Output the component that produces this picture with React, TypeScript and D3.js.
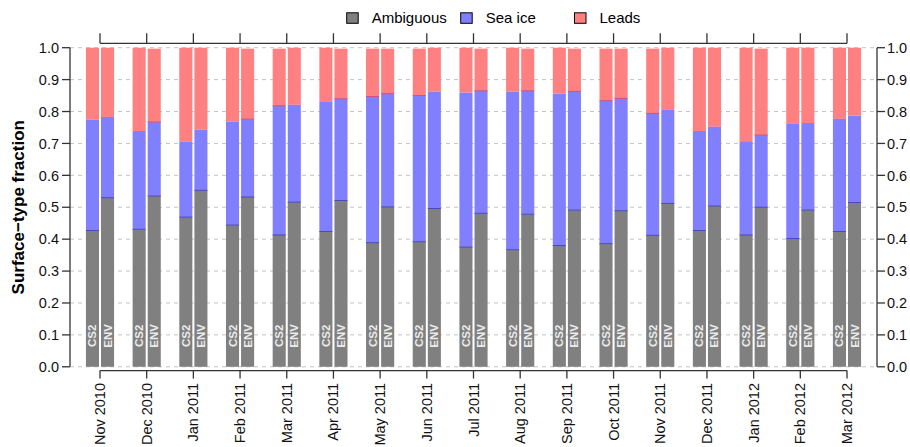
import React from "react";
import * as d3 from "d3";

// Monthly categories
const months = [
  "Nov 2010", "Dec 2010", "Jan 2011", "Feb 2011", "Mar 2011", "Apr 2011",
  "May 2011", "Jun 2011", "Jul 2011", "Aug 2011", "Sep 2011", "Oct 2011",
  "Nov 2011", "Dec 2011", "Jan 2012", "Feb 2012", "Mar 2012",
];

// Surface-type fractions, CryoSat-2
const cs2Ambiguous = [0.427, 0.431, 0.469, 0.444, 0.413, 0.424, 0.389, 0.392, 0.375, 0.367, 0.380, 0.386, 0.412, 0.427, 0.413, 0.402, 0.424];
const cs2SeaIce = [0.347, 0.308, 0.236, 0.325, 0.405, 0.406, 0.458, 0.458, 0.484, 0.495, 0.476, 0.448, 0.382, 0.312, 0.294, 0.361, 0.353];
const cs2Leads = [0.226, 0.261, 0.295, 0.231, 0.179, 0.170, 0.150, 0.147, 0.141, 0.138, 0.144, 0.163, 0.203, 0.261, 0.293, 0.237, 0.223];

// Surface-type fractions, Envisat
const envAmbiguous = [0.530, 0.535, 0.553, 0.532, 0.516, 0.521, 0.501, 0.496, 0.481, 0.478, 0.491, 0.489, 0.512, 0.504, 0.500, 0.491, 0.515];
const envSeaIce = [0.253, 0.232, 0.190, 0.244, 0.305, 0.319, 0.355, 0.366, 0.384, 0.387, 0.372, 0.352, 0.293, 0.248, 0.226, 0.273, 0.272];
const envLeads = [0.217, 0.230, 0.257, 0.221, 0.179, 0.157, 0.141, 0.138, 0.132, 0.132, 0.134, 0.156, 0.195, 0.248, 0.271, 0.236, 0.213];

const yTicks = [0, 0.1, 0.2, 0.3, 0.4, 0.5, 0.6, 0.7, 0.8, 0.9, 1.0];
const legendItems = ["Ambiguous", "Sea ice", "Leads"];
const sensors = ["CS2", "ENV"];

const COLORS = { amb: "#808080", ice: "#8080ff", leads: "#ff8080" };
const FONT = "'Liberation Sans', Arial, Helvetica, sans-serif";

export default function App() {
  const W = 910;
  const H = 447;
  const axisLeft = 70;
  const axisRight = 877;

  const x = d3.scalePoint<string>().domain(months).range([100, 847]);
  const y = d3.scaleLinear().domain([0, 1]).range([366.8, 47.7]);
  const step = x.step();
  const barW = step * 0.28;
  const halfGap = step * 0.0215;

  const series = [
    { name: sensors[0], amb: cs2Ambiguous, ice: cs2SeaIce, leads: cs2Leads, offset: -halfGap - barW },
    { name: sensors[1], amb: envAmbiguous, ice: envSeaIce, leads: envLeads, offset: halfGap },
  ];

  const stackBars = series.flatMap((s) =>
    months.map((m, i) => {
      const x0 = (x(m) as number) + s.offset;
      const a = s.amb[i];
      const b = a + s.ice[i];
      const c = b + s.leads[i];
      return { key: `${s.name}-${m}`, name: s.name, x0, a, b, c };
    })
  );

  const legendSwatchX = [346.7, 460.7, 574.5];
  const legendColors = [COLORS.amb, COLORS.ice, COLORS.leads];

  return (
    <svg
      width={W}
      height={H}
      style={{ position: "absolute", left: 0, top: 0, background: "#fff" }}
      fontFamily={FONT}
    >
      {/* horizontal dashed grid */}
      <g>
        {yTicks.map((t) => (
          <line
            key={t}
            x1={axisLeft}
            x2={axisRight}
            y1={y(t)}
            y2={y(t)}
            stroke="#c4c4c4"
            strokeWidth={1}
            strokeDasharray="4,4"
          />
        ))}
      </g>

      {/* stacked bars */}
      <g>
        {stackBars.map((d) => (
          <g key={d.key}>
            <rect x={d.x0} width={barW} y={y(d.c)} height={y(d.b) - y(d.c)} fill={COLORS.leads} />
            <rect x={d.x0} width={barW} y={y(d.b)} height={y(d.a) - y(d.b)} fill={COLORS.ice} />
            <rect x={d.x0} width={barW} y={y(d.a)} height={y(0) - y(d.a)} fill={COLORS.amb} />
            {d.c < 0.999 && (
              <line x1={d.x0} x2={d.x0 + barW} y1={y(d.b)} y2={y(d.b)} stroke="#d0507e" strokeWidth={1} />
            )}
            <line x1={d.x0} x2={d.x0 + barW} y1={y(d.a)} y2={y(d.a)} stroke="#4848c0" strokeWidth={1} />
            <text
              transform={`translate(${d.x0 + barW / 2 + 4},${y(0.1) + 1}) rotate(-90)`}
              textAnchor="middle"
              fontSize={11.5}
              fontWeight="bold"
              fill="#ececec"
            >
              {d.name}
            </text>
          </g>
        ))}
      </g>

      {/* left axis */}
      <g stroke="#333" strokeWidth={1.3}>
        <line x1={axisLeft} x2={axisLeft} y1={y(0)} y2={y(1)} />
        {yTicks.map((t) => (
          <line key={t} x1={axisLeft - 8} x2={axisLeft} y1={y(t)} y2={y(t)} />
        ))}
      </g>
      <g fontSize={14.5} fill="#111">
        {yTicks.map((t) => (
          <text key={t} x={axisLeft - 11} y={y(t)} dy="0.36em" textAnchor="end">
            {d3.format(".1f")(t)}
          </text>
        ))}
      </g>

      {/* right axis */}
      <g stroke="#333" strokeWidth={1.3}>
        <line x1={axisRight} x2={axisRight} y1={y(0)} y2={y(1)} />
        {yTicks.map((t) => (
          <line key={t} x1={axisRight} x2={axisRight + 8} y1={y(t)} y2={y(t)} />
        ))}
      </g>
      <g fontSize={14.5} fill="#111">
        {yTicks.map((t) => (
          <text key={t} x={axisRight + 10} y={y(t)} dy="0.36em" textAnchor="start">
            {d3.format(".1f")(t)}
          </text>
        ))}
      </g>

      {/* bottom axis */}
      <g stroke="#333" strokeWidth={1.3}>
        <line x1={x(months[0])} x2={x(months[months.length - 1])} y1={370.6} y2={370.6} />
        {months.map((m) => (
          <line key={m} x1={x(m)} x2={x(m)} y1={370.6} y2={378.6} />
        ))}
      </g>
      <g fontSize={14.5} fill="#111">
        {months.map((m) => (
          <text
            key={m}
            transform={`translate(${(x(m) as number) + 5},${383}) rotate(-90)`}
            textAnchor="end"
          >
            {m}
          </text>
        ))}
      </g>

      {/* top axis */}
      <g stroke="#333" strokeWidth={1.3}>
        <line x1={x(months[0])} x2={x(months[months.length - 1])} y1={43.3} y2={43.3} />
        {months.map((m) => (
          <line key={m} x1={x(m)} x2={x(m)} y1={33.3} y2={43.3} />
        ))}
      </g>

      {/* y axis title */}
      <text
        transform={`translate(24,${(y(0) + y(1)) / 2}) rotate(-90)`}
        textAnchor="middle"
        fontSize={17}
        fontWeight="bold"
        fill="#000"
      >
        Surface−type fraction
      </text>

      {/* legend */}
      <g>
        {legendItems.map((name, i) => (
          <g key={name}>
            <rect
              x={legendSwatchX[i]}
              y={12.8}
              width={11.5}
              height={10.5}
              fill={legendColors[i]}
              stroke="#000"
              strokeWidth={1}
            />
            <text x={legendSwatchX[i] + 25} y={23} fontSize={15} fill="#000">
              {name}
            </text>
          </g>
        ))}
      </g>
    </svg>
  );
}
